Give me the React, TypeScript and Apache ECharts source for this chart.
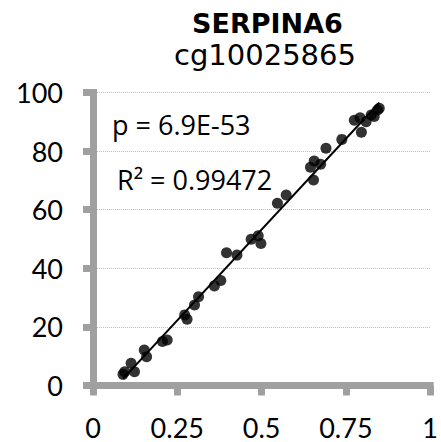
import React, { useEffect, useRef } from "react";
import * as echarts from "echarts";

const titleMain = "SERPINA6";
const titleSub = "cg10025865";
const pText = "p = 6.9E-53";
const r2Text = "R\u00B2 = 0.99472";

const xTicks = [0, 0.25, 0.5, 0.75, 1];
const yTicks = [0, 20, 40, 60, 80, 100];

const methX = [
  0.089, 0.094, 0.113, 0.123, 0.152, 0.159, 0.206, 0.22, 0.272, 0.279, 0.301,
  0.313, 0.36, 0.379, 0.396, 0.427, 0.469, 0.49, 0.498, 0.547, 0.573, 0.654,
  0.645, 0.656, 0.675, 0.691, 0.738, 0.775, 0.792, 0.796, 0.81, 0.825, 0.834,
  0.844, 0.849,
];
const methY = [
  3.8, 4.7, 7.6, 4.7, 12.1, 9.8, 15.0, 15.5, 24.1, 22.6, 27.5, 30.3, 34.0,
  35.8, 45.3, 44.5, 49.9, 51.1, 48.5, 62.2, 65.0, 70.1, 74.5, 76.6, 75.5, 81.0,
  84.0, 90.5, 91.4, 86.4, 90.0, 92.3, 91.8, 94.0, 94.6,
];

function fitLine(xs: number[], ys: number[]) {
  const n = xs.length;
  const mx = xs.reduce((a, b) => a + b, 0) / n;
  const my = ys.reduce((a, b) => a + b, 0) / n;
  let sxy = 0;
  let sxx = 0;
  for (let i = 0; i < n; i++) {
    sxy += (xs[i] - mx) * (ys[i] - my);
    sxx += (xs[i] - mx) * (xs[i] - mx);
  }
  const b = sxy / sxx;
  const a = my - b * mx;
  const x0 = Math.min(...xs);
  const x1 = Math.max(...xs);
  return [
    [x0, a + b * x0],
    [x1, a + b * x1],
  ];
}

export default function App() {
  const ref = useRef<HTMLDivElement>(null);
  useEffect(() => {
    document.body.style.margin = "0";
    const chart = echarts.init(ref.current!, null, { renderer: "svg" });
    const font = "Lato, 'Open Sans', sans-serif";
    const annFont = "'Open Sans', Lato, sans-serif";
    const titleFont = "'DejaVu Sans', sans-serif";
    const axisGray = "#A0A0A0";
    const points = methX.map((x, i) => [x, methY[i]]);
    chart.setOption({
      animation: false,
      backgroundColor: "#ffffff",
      grid: { left: 93, right: 6, top: 92.5, bottom: 56.5, containLabel: false },
      xAxis: {
        type: "value",
        min: xTicks[0],
        max: xTicks[xTicks.length - 1],
        interval: 0.25,
        axisLine: { show: true, lineStyle: { color: axisGray, width: 7, cap: "square" } },
        axisTick: { show: true, length: 10, lineStyle: { color: axisGray, width: 7 } },
        axisLabel: { color: "#000", fontSize: 27, fontFamily: font, margin: 28 },
        splitLine: { show: false },
      },
      yAxis: {
        type: "value",
        min: yTicks[0],
        max: yTicks[yTicks.length - 1],
        interval: 20,
        axisLine: { show: true, lineStyle: { color: axisGray, width: 7, cap: "square" } },
        axisTick: { show: true, length: 10, lineStyle: { color: axisGray, width: 7 } },
        axisLabel: { color: "#000", fontSize: 27, fontFamily: font, margin: 30 },
        splitLine: { show: true, lineStyle: { color: "#BDBDBD", type: "dotted", width: 1 } },
      },
      series: [
        {
          type: "line",
          data: fitLine(methX, methY),
          symbol: "none",
          lineStyle: { color: "#000", width: 2 },
          z: 3,
        },
        {
          type: "scatter",
          data: points,
          symbolSize: 11,
          itemStyle: { color: "#000" },
          z: 4,
        },
      ],
      graphic: [
        {
          type: "text",
          x: 267.5,
          y: 23,
          style: {
            text: titleMain,
            fontSize: 27,
            fontWeight: "bold",
            fontFamily: titleFont,
            fill: "#000",
            textAlign: "center",
            textVerticalAlign: "middle",
          },
        },
        {
          type: "text",
          x: 265,
          y: 55,
          style: {
            text: titleSub,
            fontSize: 29,
            fontFamily: titleFont,
            fill: "#000",
            textAlign: "center",
            textVerticalAlign: "middle",
          },
        },
        {
          type: "text",
          x: 112,
          y: 124,
          style: {
            text: pText,
            fontSize: 27,
            fontFamily: annFont,
            fill: "#000",
            textAlign: "left",
            textVerticalAlign: "middle",
          },
        },
        {
          type: "text",
          x: 117,
          y: 179,
          style: {
            text: r2Text,
            fontSize: 27,
            fontFamily: annFont,
            fill: "#000",
            textAlign: "left",
            textVerticalAlign: "middle",
          },
        },
      ],
    });
    return () => chart.dispose();
  }, []);
  return (
    <div
      ref={ref}
      style={{ position: "fixed", left: 0, top: 0, width: 441, height: 442 }}
    />
  );
}
